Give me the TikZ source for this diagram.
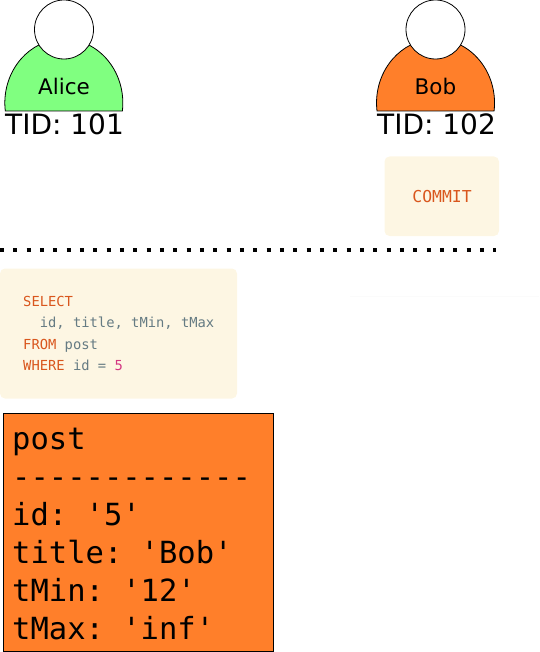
\documentclass[tikz,border=0pt]{standalone}
\usepackage{fontspec}
\setmainfont{DejaVu Sans}
\setmonofont{DejaVu Sans Mono}
\definecolor{alicegreen}{HTML}{80FF80}
\definecolor{boborange}{HTML}{FF7F2A}
\definecolor{codebg}{HTML}{FDF6E3}
\definecolor{kw}{HTML}{D9561D}
\definecolor{base}{HTML}{657B83}
\definecolor{num}{HTML}{D33682}
\definecolor{faint}{HTML}{FBFBFB}
\tikzset{
  x=1pt,y=-1pt,
  body/.style={draw=black,line width=0.8pt},
  head/.style={circle,draw=black,fill=white,line width=0.8pt,minimum size=59pt,inner sep=0pt},
  personname/.style={font=\fontsize{21.5}{24}\selectfont,inner sep=0pt},
  tid/.style={font=\fontsize{28}{32}\selectfont,inner sep=0pt},
  codebox/.style={fill=codebg,rounded corners=5pt},
  sql/.style={font=\fontsize{13.8}{21.3}\ttfamily,color=base,inner sep=0pt,align=left,anchor=north west},
  record/.style={draw=black,fill=boborange,line width=0.9pt},
  rectext/.style={font=\fontsize{30.5}{38}\ttfamily,inner sep=0pt,align=left,anchor=north west}
}
\begin{document}
\begin{tikzpicture}
\useasboundingbox (0,0) rectangle (539,652);
% Alice
\draw[body,fill=alicegreen] (5.3,111) arc[start angle=172.8,end angle=367.2,x radius=59,y radius=64] -- cycle;
\node[head] (alicehead) at (64,29.5) {};
\node[personname,anchor=base] (alice) at (64,95) {Alice};
\node[tid,anchor=base] (alicetid) at (64.5,135) {TID: 101};
% Bob
\draw[body,fill=boborange] (377,111) arc[start angle=172.8,end angle=367.2,x radius=59,y radius=64] -- cycle;
\node[head] (bobhead) at (435.5,29.5) {};
\node[personname,anchor=base] (bob) at (435.5,95) {Bob};
\node[tid,anchor=base] (bobtid) at (436.5,135) {TID: 102};
% Commit
\fill[codebox] (384.5,156.5) rectangle (499,236);
\node[font=\fontsize{16.4}{20}\ttfamily,color=kw,inner sep=0pt,anchor=base] (commit) at (442,202.5) {COMMIT};
% Separator
\draw[line width=4pt,dash pattern=on 4pt off 9.33pt] (0,249.7) -- (495.5,249.7);
\draw[faint,line width=1pt] (350,296.5) -- (539,296.5);
% Query
\fill[codebox] (0,268.5) rectangle (237,398.5);
\node[sql] (query) at (23,296) {\textcolor{kw}{SELECT}\\
\hspace*{2\fontcharwd\font`0}id, title, tMin, tMax\\
\textcolor{kw}{FROM} post\\
\textcolor{kw}{WHERE} id = \textcolor{num}{5}};
% Record
\draw[record] (3,413.5) rectangle (273,651.5);
\node[rectext] (rec) at (12,427.5) {post\\
-------------\\
id: '5'\\
title: 'Bob'\\
tMin: '12'\\
tMax: 'inf'};
\end{tikzpicture}
\end{document}
